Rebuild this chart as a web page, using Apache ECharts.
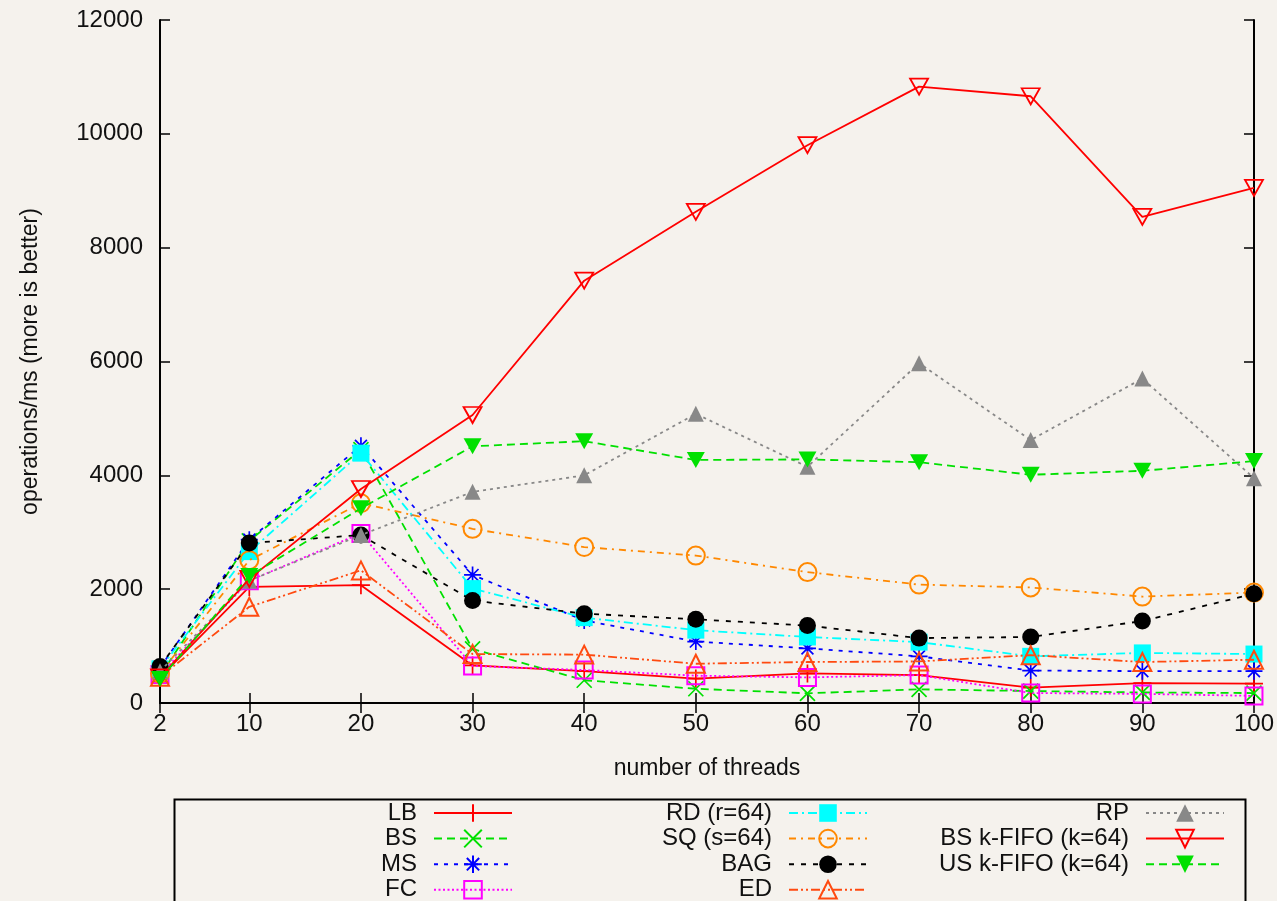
<!DOCTYPE html>
<html>
<head>
<meta charset="utf-8">
<script src="https://cdn.jsdelivr.net/npm/echarts@6/dist/echarts.min.js"></script>
<style>
html,body{margin:0;padding:0;background:#f5f2ed;}
#main{width:1277px;height:901px;}
</style>
</head>
<body>
<div id="main"></div>
<script>
// ---- data ----
var threads = [2, 10, 20, 30, 40, 50, 60, 70, 80, 90, 100];
var xTicks = [2, 10, 20, 30, 40, 50, 60, 70, 80, 90, 100];
var yTicks = [0, 2000, 4000, 6000, 8000, 10000, 12000];

var LB   = [450, 2040, 2070, 660, 560, 430, 520, 490, 270, 350, 340];
var BS   = [480, 2850, 4450, 950, 400, 250, 170, 240, 210, 185, 175];
var MS   = [620, 2870, 4520, 2250, 1450, 1080, 960, 820, 570, 560, 560];
var FC   = [500, 2150, 2980, 650, 580, 480, 450, 490, 175, 160, 125];
var RD   = [600, 2660, 4390, 2010, 1500, 1280, 1160, 1070, 820, 880, 860];
var SQ   = [520, 2510, 3510, 3060, 2740, 2590, 2300, 2080, 2030, 1870, 1940];
var BAG  = [640, 2810, 2950, 1800, 1570, 1470, 1360, 1140, 1160, 1440, 1920];
var ED   = [460, 1690, 2330, 860, 850, 690, 720, 730, 840, 720, 760];
var RP   = [560, 2150, 2950, 3710, 4000, 5080, 4150, 5970, 4620, 5700, 3950];
var BSK  = [450, 2180, 3760, 5060, 7420, 8630, 9800, 10830, 10660, 8540, 9050];
var USK  = [420, 2230, 3420, 4510, 4600, 4270, 4280, 4230, 4010, 4080, 4250];

var names = ['LB', 'BS', 'MS', 'FC', 'RD (r=64)', 'SQ (s=64)', 'BAG', 'ED', 'RP', 'BS k-FIFO (k=64)', 'US k-FIFO (k=64)'];
var values = [LB, BS, MS, FC, RD, SQ, BAG, ED, RP, BSK, USK];

// ---- styles ----
var FONT = 'Liberation Sans';
var PLUS = 'path://M0,5L10,5M5,0L5,10';
var CROSS = 'path://M0,0L10,10M10,0L0,10';
var STAR = 'path://M0,5L10,5M5,0L5,10M1.5,1.5L8.5,8.5M8.5,1.5L1.5,8.5';
var TDOWN = 'path://M0,0L10,0L5,8.7Z';

var styles = [
  {c:'#ff0000', dash:'solid',          sym:PLUS,       size:18, fill:false, bw:1.7},
  {c:'#00e000', dash:[8,5],            sym:CROSS,      size:15, fill:false, bw:1.7},
  {c:'#0000ff', dash:[4,6],            sym:STAR,       size:17, fill:false, bw:1.7},
  {c:'#ff00ff', dash:[2,2.5],          sym:'rect',     size:17, fill:false, bw:2},
  {c:'#00ffff', dash:[9,4,2,4],        sym:'rect',     size:17, fill:true,  bw:0},
  {c:'#ff8800', dash:[7,5,2,5],        sym:'circle',   size:18, fill:false, bw:2},
  {c:'#000000', dash:[5,7],            sym:'circle',   size:17, fill:true,  bw:0},
  {c:'#ff4a10', dash:[9,3,2,3,2,3],    sym:'triangle', size:18, fill:false, bw:2},
  {c:'#888888', dash:[3,4],            sym:'triangle', size:16, fill:true,  bw:0},
  {c:'#ff0000', dash:'solid',          sym:TDOWN,      size:[18,16], fill:false, bw:1.8},
  {c:'#00e000', dash:[8,5],            sym:TDOWN,      size:[18,16], fill:true,  bw:0}
];

var series = names.map(function (n, i) {
  var s = styles[i];
  return {
    name: n,
    type: 'line',
    data: threads.map(function (x, j) { return [x, values[i][j]]; }),
    symbol: s.sym,
    symbolSize: s.size,
    showAllSymbol: true,
    lineStyle: {color: s.c, width: 1.8, type: s.dash},
    itemStyle: s.fill ? {color: s.c, borderWidth: 0} : {color: 'none', borderColor: s.c, borderWidth: s.bw},
    emphasis: {disabled: true},
    animation: false,
    z: 2 + i * 0.01
  };
});

function legendCol(items, right) {
  return {
    data: items,
    orient: 'vertical',
    align: 'right',
    right: right,
    top: 801,
    height: 140,
    padding: 0,
    itemGap: 1.6,
    itemWidth: 78,
    itemHeight: 22,
    selectedMode: false,
    textStyle: {fontFamily: FONT, fontSize: 24, color: '#111', lineHeight: 21, padding: [0, 12, 0, 0]}
  };
}

var axisLine = {show: true, lineStyle: {color: '#000', width: 2}};
var tickStyle = {color: '#000', width: 1.5};
var option = {
  backgroundColor: '#f5f2ed',
  animation: false,
  grid: {left: 160, right: 23, top: 20, bottom: 198, containLabel: false},
  xAxis: [{
    type: 'value', min: 2, max: 100,
    name: 'number of threads', nameLocation: 'middle', nameGap: 54,
    nameTextStyle: {fontFamily: FONT, fontSize: 23, color: '#111'},
    axisLine: axisLine,
    axisTick: {show: true, inside: true, length: 10, lineStyle: tickStyle, customValues: xTicks},
    axisLabel: {fontFamily: FONT, fontSize: 24, color: '#111', margin: 9, customValues: xTicks,
      formatter: function (v) { return String(v); }},
    splitLine: {show: false}
  }, {
    type: 'value', min: 2, max: 100, position: 'top',
    axisLine: axisLine,
    axisTick: {show: true, inside: true, length: 10, lineStyle: tickStyle, customValues: xTicks},
    axisLabel: {show: false},
    splitLine: {show: false}
  }],
  yAxis: [{
    type: 'value', min: 0, max: 12000, interval: 2000,
    name: 'operations/ms (more is better)', nameLocation: 'middle', nameGap: 118, nameRotate: 90,
    nameTextStyle: {fontFamily: FONT, fontSize: 23, color: '#111'},
    axisLine: axisLine,
    axisTick: {show: true, inside: true, length: 10, lineStyle: tickStyle, customValues: yTicks},
    axisLabel: {fontFamily: FONT, fontSize: 24, color: '#111', margin: 17, customValues: yTicks,
      formatter: function (v) { return String(v); }},
    splitLine: {show: false}
  }, {
    type: 'value', min: 0, max: 12000, interval: 2000, position: 'right',
    axisLine: axisLine,
    axisTick: {show: true, inside: true, length: 10, lineStyle: tickStyle},
    axisLabel: {show: false},
    splitLine: {show: false}
  }],
  legend: [
    legendCol(names.slice(0, 4), 764),
    legendCol(names.slice(4, 8), 409),
    legendCol(names.slice(8, 11), 52)
  ],
  graphic: [{
    type: 'rect', left: 172, top: 797, silent: true,
    shape: {width: 1071, height: 110},
    style: {fill: 'none', stroke: '#000', lineWidth: 2}
  }],
  series: series
};

var chart = echarts.init(document.getElementById('main'), null, {renderer: 'canvas'});
chart.setOption(option);
</script>
</body>
</html>
